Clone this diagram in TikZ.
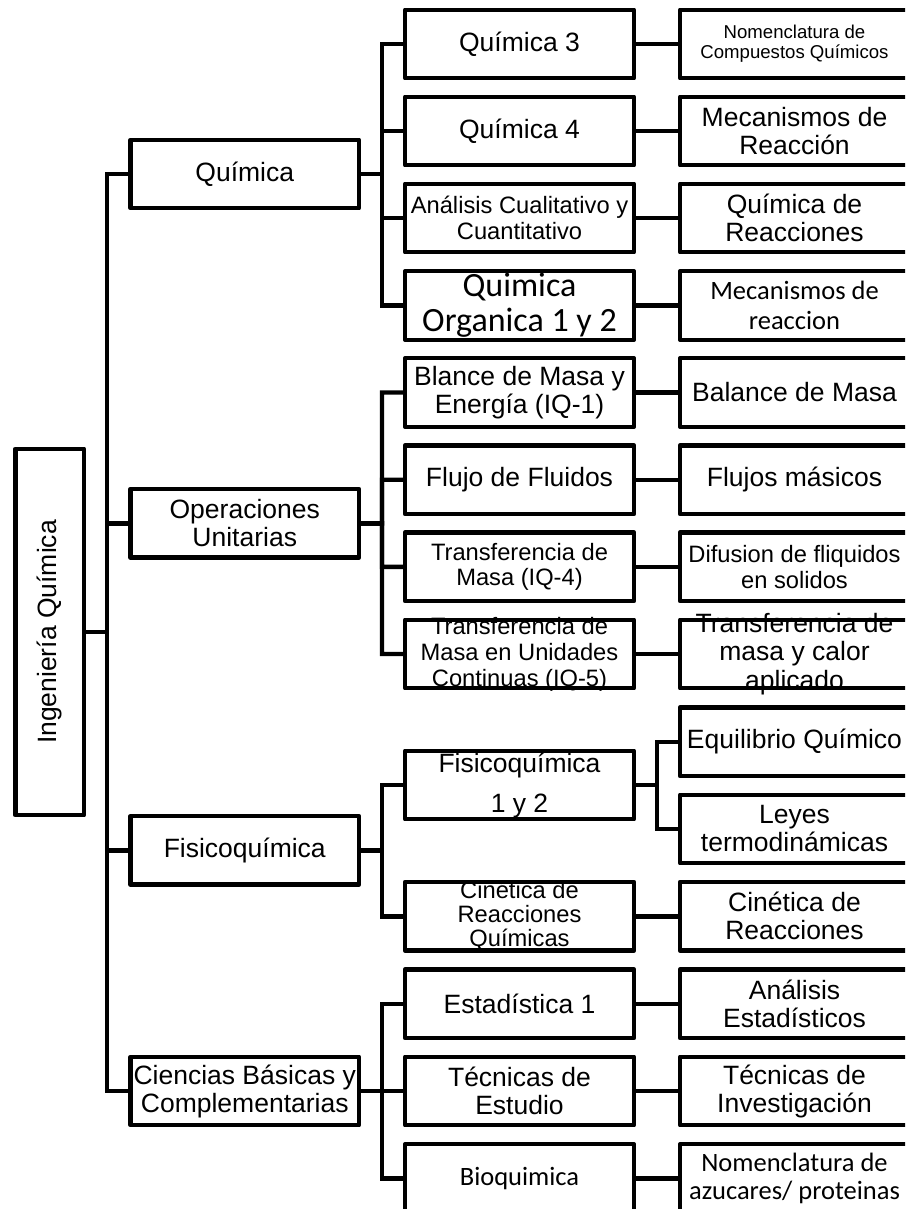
\documentclass[tikz,border=0pt]{standalone}
\usepackage{fontspec}
\setmainfont{Liberation Sans}
\newfontfamily\calib{Carlito}
\usepackage{tikz}
\usetikzlibrary{calc}

\tikzset{
  caja/.style={draw, line width=4.4pt, line join=round, minimum width=229pt, minimum height=68.5pt,
    inner xsep=0pt, inner ysep=-20pt, align=center,
    font=\fontsize{26.5}{28}\selectfont},
  chica/.style={font=\fontsize{23.7}{25.5}\selectfont},
  cali/.style={font=\calib\fontsize{26.5}{30}\selectfont},
  conn/.style={line width=4.4pt},
  elbow/.style={to path={-- ($(\tikztostart)!0.5!(\tikztotarget |- \tikztostart)$) |- (\tikztotarget)}}
}

\begin{document}
\begin{tikzpicture}[x=1pt, y=-1pt]

\useasboundingbox (0,0) rectangle (905,1209);
\clip (0,0) rectangle (905,1209);

% raiz
\node [caja, minimum width=68.7pt, minimum height=366.5pt] (ing) at (49.65,632)
    {\rotatebox{90}{Ingeniería Química}};

% nivel 1
\node [caja, minimum width=228.5pt] (quim) at (244.75,174)   {Química};
\node [caja, minimum width=228.5pt] (opu)  at (244.75,523.3) {Operaciones\\Unitarias};
\node [caja, minimum width=228.5pt] (fisq) at (244.75,850.4) {Fisicoquímica};
\node [caja, minimum width=228.5pt] (cbc)  at (244.75,1091)  {Ciencias Básicas y\\Complementarias};

% nivel 2
\node [caja]        (q3)   at (519.5,44)    {Química 3};
\node [caja]        (q4)   at (519.5,131)   {Química 4};
\node [caja, chica] (acc)  at (519.5,218)   {Análisis Cualitativo y\\Cuantitativo};
\node [caja, font=\calib\fontsize{34}{35}\selectfont] (qorg) at (519.5,305.5) {Quimica\\Organica 1 y 2};
\node [caja]        (bme)  at (519.5,392.5) {Blance de Masa y\\Energía (IQ-1)};
\node [caja]        (ffl)  at (519.5,479.7) {Flujo de Fluidos};
\node [caja, chica] (tm4)  at (519.5,566.8) {Transferencia de\\Masa (IQ-4)};
\node [caja, chica, font=\fontsize{23.7}{26}\selectfont] (tm5) at (519.5,654)
    {Transferencia de\\Masa en Unidades\\Continuas (IQ-5)};
\node [caja, font=\fontsize{26.5}{40}\selectfont] (fq12) at (519.5,785) {Fisicoquímica\\1 y 2};
\node [caja, font=\fontsize{23.7}{24}\selectfont] (crq) at (519.5,916.3) {Cinética de\\Reacciones\\Químicas};
\node [caja]        (est1) at (519.5,1003.7) {Estadística 1};
\node [caja]        (tec)  at (519.5,1091)   {Técnicas de\\Estudio};
\node [caja, cali]  (bioq) at (519.5,1178.5) {Bioquimica};

% nivel 3
\node [caja, font=\fontsize{18.6}{20}\selectfont] (nomq) at (794.5,44) {Nomenclatura de\\Compuestos Químicos};
\node [caja]        (mecr)  at (794.5,131)   {Mecanismos de\\Reacción};
\node [caja]        (qdr)   at (794.5,218)   {Química de\\Reacciones};
\node [caja, cali]  (mecr2) at (794.5,305.5) {Mecanismos de\\reaccion};
\node [caja]        (bmas)  at (794.5,392.5) {Balance de Masa};
\node [caja]        (flm)   at (794.5,479.7) {Flujos másicos};
\node [caja, chica] (dif)   at (794.5,566.8) {Difusion de fliquidos\\en solidos};
\node [caja, font=\fontsize{26.5}{28.5}\selectfont] (tmc) at (794.5,654) {Transferencia de\\masa y calor\\aplicado};
\node [caja]        (eqq)   at (794.5,741.8) {Equilibrio Químico};
\node [caja]        (leyes) at (794.5,829)   {Leyes\\termodinámicas};
\node [caja]        (cinr)  at (794.5,916.3) {Cinética de\\Reacciones};
\node [caja]        (anest) at (794.5,1003.7) {Análisis\\Estadísticos};
\node [caja]        (tinv)  at (794.5,1091)  {Técnicas de\\Investigación};
\node [caja, cali, font=\calib\fontsize{26.5}{28.5}\selectfont] (noma) at (794.5,1178.5) {Nomenclatura de\\azucares/ proteinas};

% conectores
\foreach \h in {quim,opu,fisq,cbc}
    \draw [conn] (ing.east) to[elbow] (\h.west);

\foreach \h in {q3,q4,acc,qorg}
    \draw [conn] (quim.east) to[elbow] (\h.west);
\foreach \h in {bme,ffl,tm4,tm5}
    \draw [conn] (opu.east) to[elbow] (\h.west);
\foreach \h in {fq12,crq}
    \draw [conn] (fisq.east) to[elbow] (\h.west);
\foreach \h in {est1,tec,bioq}
    \draw [conn] (cbc.east) to[elbow] (\h.west);

\foreach \h in {eqq,leyes}
    \draw [conn] (fq12.east) to[elbow] (\h.west);

\draw [conn] (q3) -- (nomq);
\draw [conn] (q4) -- (mecr);
\draw [conn] (acc) -- (qdr);
\draw [conn] (qorg) -- (mecr2);
\draw [conn] (bme) -- (bmas);
\draw [conn] (ffl) -- (flm);
\draw [conn] (tm4) -- (dif);
\draw [conn] (tm5) -- (tmc);
\draw [conn] (crq) -- (cinr);
\draw [conn] (est1) -- (anest);
\draw [conn] (tec) -- (tinv);
\draw [conn] (bioq) -- (noma);

\end{tikzpicture}
\end{document}
